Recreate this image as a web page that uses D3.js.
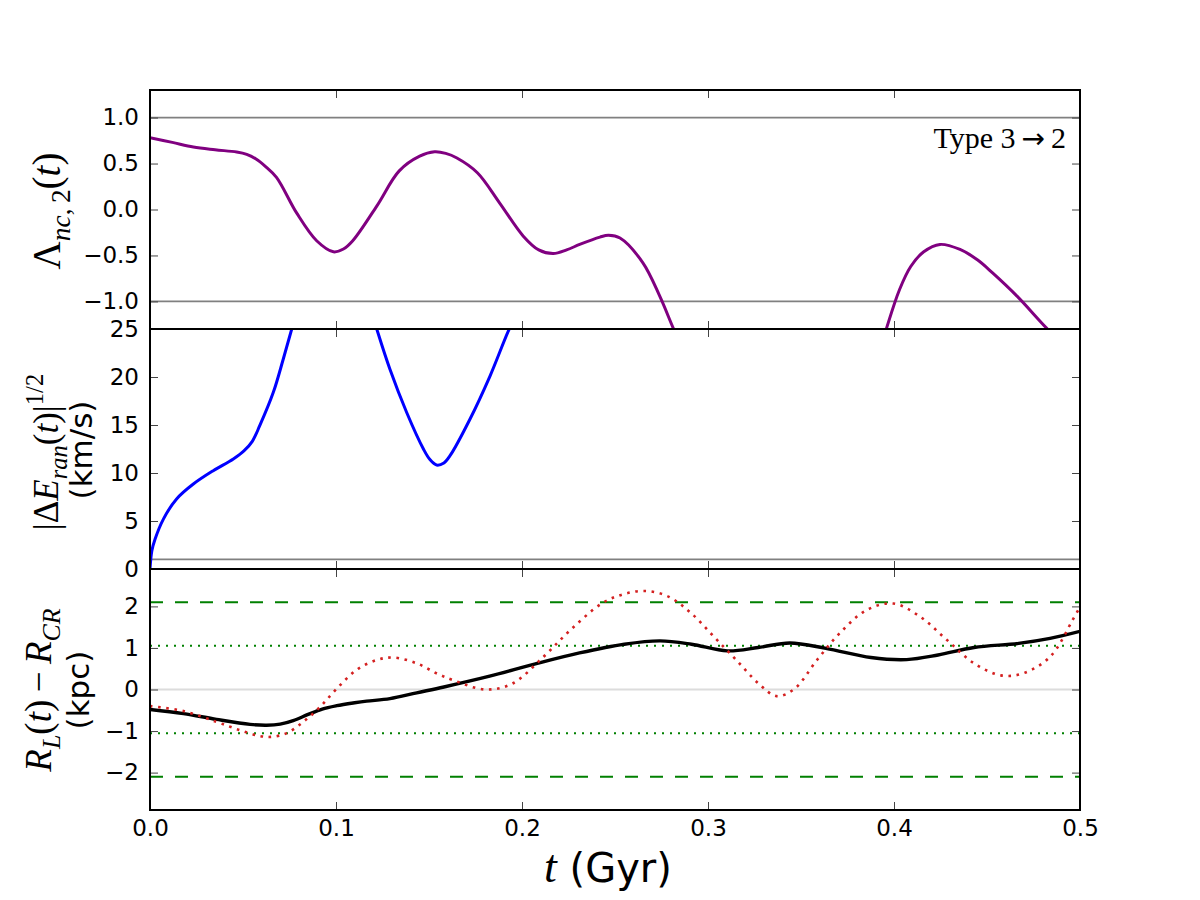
<!DOCTYPE html>
<html>
<head>
<meta charset="utf-8">
<script src="https://cdn.jsdelivr.net/npm/d3@7"></script>
<style>
  body { margin: 0; background: #fff; }
  .tick text { font-family: "DejaVu Sans", sans-serif; font-size: 23px; fill: #000; }
  .tick line { stroke: #444; stroke-width: 1; }
</style>
</head>
<body>
<svg width="1200" height="900"></svg>
<script>
var svg = d3.select("svg");

// ---- data ----
var xTicks = [0, 0.1, 0.2, 0.3, 0.4, 0.5];
var lamTicks = [-1, -0.5, 0, 0.5, 1];
var eTicks = [0, 5, 10, 15, 20, 25];
var rTicks = [-2, -1, 0, 1, 2];

var lamLevels = [-1, 1];      // grey lines, top panel
var eLevel = 1;               // grey line, middle panel
var dashLevels = [-2.1, 2.1]; // green dashed
var dotLevels = [-1.05, 1.05];// green dotted

// Lambda_nc,2(t) (null = gap where the curve leaves the panel)
var lambda = [
  [0, 0.78], [0.012, 0.73], [0.0233, 0.68], [0.035, 0.65], [0.0466, 0.625],
  [0.052, 0.60], [0.057, 0.55], [0.062, 0.47], [0.068, 0.35], [0.0789, -0.04],
  [0.0896, -0.34], [0.0986, -0.46], [0.104, -0.43], [0.109, -0.34], [0.122, 0.04],
  [0.134, 0.42], [0.145, 0.58], [0.153, 0.627], [0.159, 0.61], [0.165, 0.56],
  [0.176, 0.40], [0.188, 0.07], [0.2007, -0.29], [0.209, -0.44], [0.2168, -0.48],
  [0.224, -0.44], [0.231, -0.38], [0.2419, -0.30], [0.2465, -0.28], [0.2527, -0.31],
  [0.265, -0.58], [0.274, -0.94], [0.2813, -1.29], [0.288, -1.6],
  null,
  [0.39, -1.7], [0.396, -1.29], [0.403, -0.87], [0.409, -0.62], [0.416, -0.46],
  [0.4247, -0.38], [0.4355, -0.435], [0.445, -0.55], [0.453, -0.69], [0.466, -0.94],
  [0.482, -1.29], [0.495, -1.55], [0.5, -1.65]
];

// |dE_ran(t)|^(1/2) in km/s
var eran = [
  [0, 0], [0.001, 1.9], [0.0027, 3.1], [0.0072, 5.2], [0.0143, 7.3], [0.0233, 8.85],
  [0.034, 10.24], [0.0448, 11.46], [0.0505, 12.3], [0.055, 13.3], [0.059, 14.93],
  [0.0663, 18.4], [0.0717, 21.9], [0.0762, 25], [0.08, 27.5],
  null,
  [0.118, 27.5], [0.1219, 25], [0.129, 20.8], [0.138, 16.3], [0.147, 12.5],
  [0.1505, 11.4], [0.1541, 10.83], [0.158, 11.05], [0.1613, 11.8], [0.172, 15.6],
  [0.1828, 20.1], [0.1927, 24.8], [0.197, 26.5]
];

// R_L(t) - R_CR (kpc), black solid
var rGuide = [
  [0, -0.48], [0.018, -0.58], [0.0358, -0.72], [0.0538, -0.84], [0.0627, -0.86],
  [0.07, -0.835], [0.077, -0.75], [0.085, -0.60], [0.0926, -0.47], [0.1004, -0.39],
  [0.11, -0.32], [0.1165, -0.28], [0.129, -0.22], [0.1434, -0.08], [0.158, 0.06],
  [0.1826, 0.32], [0.2067, 0.61], [0.2309, 0.88], [0.255, 1.09], [0.2742, 1.17],
  [0.2911, 1.09], [0.3104, 0.93], [0.327, 1.01], [0.344, 1.12], [0.3634, 0.99],
  [0.3876, 0.77], [0.4068, 0.72], [0.4237, 0.83], [0.443, 1.01], [0.467, 1.11],
  [0.4839, 1.23], [0.5, 1.40]
];

// red dotted
var rStar = [
  [0, -0.40], [0.018, -0.52], [0.0358, -0.78], [0.0484, -0.98], [0.059, -1.12],
  [0.0654, -1.14], [0.0735, -1.05], [0.0824, -0.78], [0.0914, -0.42], [0.1004, 0.02],
  [0.111, 0.47], [0.1219, 0.71], [0.1308, 0.77], [0.1434, 0.63], [0.154, 0.39],
  [0.1633, 0.22], [0.1802, 0.0], [0.1947, 0.14], [0.2116, 0.79], [0.226, 1.43],
  [0.2429, 2.07], [0.255, 2.30], [0.267, 2.37], [0.279, 2.23], [0.2911, 1.83],
  [0.3032, 1.27], [0.3152, 0.71], [0.3273, 0.14], [0.3369, -0.16], [0.3466, 0.02],
  [0.3586, 0.71], [0.3707, 1.35], [0.3852, 1.91], [0.3996, 2.07], [0.4141, 1.75],
  [0.4285, 1.19], [0.443, 0.63], [0.4575, 0.34], [0.4695, 0.39], [0.484, 0.79],
  [0.496, 1.67], [0.5, 1.99]
];

// ---- layout ----
var left = 150, right = 1080;
var xscale = d3.scaleLinear().domain([0, 0.5]).range([left, right]);

var panels = [
  { top: 90, bottom: 329, domain: [-1.3, 1.3], ticks: lamTicks, fmt: d3.format(".1f") },
  { top: 329, bottom: 569, domain: [0, 25], ticks: eTicks, fmt: d3.format("d") },
  { top: 569, bottom: 810, domain: [-2.9, 2.9], ticks: rTicks, fmt: d3.format("d") }
];
panels.forEach(function (p) {
  p.y = d3.scaleLinear().domain(p.domain).range([p.bottom, p.top]);
});

var line = function (y) {
  return d3.line()
    .defined(function (d) { return d !== null; })
    .x(function (d) { return xscale(d[0]); })
    .y(function (d) { return y(d[1]); })
    .curve(d3.curveCatmullRom.alpha(0.5));
};

function hline(g, y, v, color, width, dash) {
  g.append("line")
    .attr("x1", left).attr("x2", right)
    .attr("y1", y(v)).attr("y2", y(v))
    .attr("stroke", color).attr("stroke-width", width)
    .attr("stroke-dasharray", dash || null);
}

panels.forEach(function (p, i) {
  var g = svg.append("g");
  g.append("clipPath").attr("id", "clip" + i)
    .append("rect").attr("x", left).attr("y", p.top)
    .attr("width", right - left).attr("height", p.bottom - p.top);
  p.body = g.append("g").attr("clip-path", "url(#clip" + i + ")");
  p.g = g;
});

// top panel
var p0 = panels[0];
lamLevels.forEach(function (v) { hline(p0.body, p0.y, v, "#808080", 1.6); });
p0.body.append("path").attr("d", line(p0.y)(lambda))
  .attr("fill", "none").attr("stroke", "#800080").attr("stroke-width", 3);

// middle panel
var p1 = panels[1];
hline(p1.body, p1.y, eLevel, "#808080", 1.6);
p1.body.append("path").attr("d", line(p1.y)(eran))
  .attr("fill", "none").attr("stroke", "#0000ff").attr("stroke-width", 3);

// bottom panel
var p2 = panels[2];
hline(p2.body, p2.y, 0, "#dcdcdc", 2);
dashLevels.forEach(function (v) { hline(p2.body, p2.y, v, "#008000", 2, "13,12"); });
dotLevels.forEach(function (v) { hline(p2.body, p2.y, v, "#008000", 2, "2,6"); });
p2.body.append("path").attr("d", line(p2.y)(rGuide))
  .attr("fill", "none").attr("stroke", "#000").attr("stroke-width", 3.4);
p2.body.append("path").attr("d", line(p2.y)(rStar))
  .attr("fill", "none").attr("stroke", "#d42020").attr("stroke-width", 2.6)
  .attr("stroke-dasharray", "2.6,5.6");

// axes
panels.forEach(function (p, i) {
  var g = p.g;
  g.append("g").attr("transform", "translate(" + left + ",0)")
    .call(d3.axisLeft(p.y).tickValues(p.ticks).tickFormat(p.fmt)
      .tickSizeInner(-8).tickSizeOuter(0).tickPadding(11))
    .call(function (a) { a.select(".domain").remove(); });
  g.append("g").attr("transform", "translate(" + right + ",0)")
    .call(d3.axisRight(p.y).tickValues(p.ticks).tickFormat("")
      .tickSizeInner(-8).tickSizeOuter(0))
    .call(function (a) { a.select(".domain").remove(); });
  g.append("g").attr("transform", "translate(0," + p.top + ")")
    .call(d3.axisTop(xscale).tickValues(xTicks).tickFormat("")
      .tickSizeInner(-8).tickSizeOuter(0))
    .call(function (a) { a.select(".domain").remove(); });
  var bottom = d3.axisBottom(xscale).tickValues(xTicks)
    .tickSizeInner(-8).tickSizeOuter(0).tickPadding(10);
  bottom.tickFormat(i === 2 ? d3.format(".1f") : "");
  g.append("g").attr("transform", "translate(0," + p.bottom + ")")
    .call(bottom)
    .call(function (a) { a.select(".domain").remove(); });
  g.append("rect").attr("x", left).attr("y", p.top)
    .attr("width", right - left).attr("height", p.bottom - p.top)
    .attr("fill", "none").attr("stroke", "#000").attr("stroke-width", 2);
});

// ---- labels ----
var serif = "'Liberation Serif', 'DejaVu Serif', serif";
var sans = "'DejaVu Sans', sans-serif";

function mathText(x, y, fs, parts, rotate) {
  var t = svg.append("text")
    .attr("transform", "translate(" + x + "," + y + ")" + (rotate ? " rotate(-90)" : ""))
    .attr("text-anchor", "middle")
    .attr("font-size", fs + "px")
    .attr("fill", "#000");
  var shift = 0;
  parts.forEach(function (p) {
    var want = p.sub ? fs * 0.25 : p.sup ? -fs * 0.42 : 0;
    t.append("tspan")
      .attr("dy", want - shift)
      .attr("font-family", p.sans ? sans : serif)
      .attr("font-style", p.it ? "italic" : "normal")
      .attr("font-size", (p.sub || p.sup) ? (fs * 0.7) + "px" : (p.fs ? p.fs + "px" : null))
      .text(p.s);
    shift = want;
  });
  return t;
}

mathText(60, 211, 39, [
  { s: "\u039B" }, { s: "nc", it: true, sub: true }, { s: ",\u20092", sub: true },
  { s: "(" }, { s: "t", it: true }, { s: ")" }
], true);

mathText(58, 452, 35, [
  { s: "|\u0394" }, { s: "E", it: true }, { s: "ran", it: true, sub: true },
  { s: "(" }, { s: "t", it: true }, { s: ")|" }, { s: "1/2", sup: true }
], true);
mathText(92, 450, 31, [{ s: "(km/s)", sans: true }], true);

mathText(51, 690, 37, [
  { s: "R", it: true }, { s: "L", it: true, sub: true }, { s: "(" },
  { s: "t", it: true }, { s: ")\u2009\u2212\u2009" }, { s: "R", it: true },
  { s: "CR", it: true, sub: true }
], true);
mathText(89, 690, 31, [{ s: "(kpc)", sans: true }], true);

mathText(608, 882, 40, [{ s: "t", it: true, fs: 46 }, { s: " (Gyr)", sans: true }], false);

var type = svg.append("text")
  .attr("x", 1066).attr("y", 148)
  .attr("text-anchor", "end")
  .attr("font-family", serif)
  .attr("font-size", "30px");
type.append("tspan").text("Type 3\u2009");
type.append("tspan").attr("font-family", sans).attr("font-size", "28px").text("\u2192");
type.append("tspan").text("\u20092");
</script>
</body>
</html>
